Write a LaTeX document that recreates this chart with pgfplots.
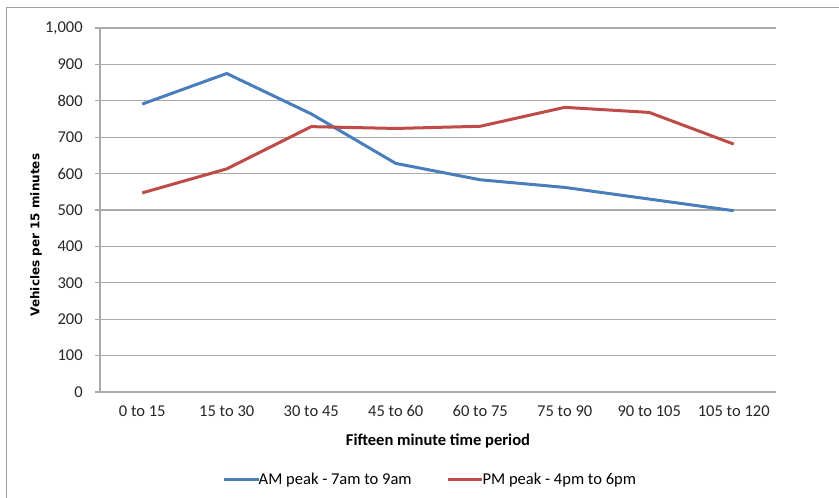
\documentclass[border=0pt]{standalone}
\usepackage{fontspec}
\setmainfont{Carlito}
\newfontfamily\ylabfont{DejaVu Sans}
\usepackage{pgfplots}
\pgfplotsset{compat=1.18}
\definecolor{amblue}{RGB}{74,126,187}
\definecolor{pmred}{RGB}{190,75,72}
\definecolor{gridgray}{RGB}{170,170,170}
\definecolor{framegray}{RGB}{160,160,160}
\begin{document}
\begin{tikzpicture}
\useasboundingbox (-75pt,-79.5pt) rectangle (554.25pt,294pt);
\begin{scope}[x=0.75pt,y=0.75pt]
\draw[framegray, line width=0.9pt] (-93.5,-120) -- (-93.5,384.5) -- (760,384.5);
\end{scope}
\begin{axis}[
  at={(0,0)}, anchor=south west,
  scale only axis,
  width=507pt, height=273pt,
  xmin=-0.5, xmax=7.5,
  ymin=0, ymax=1000,
  xtick={0,...,7},
  xticklabels={0 to 15,15 to 30,30 to 45,45 to 60,60 to 75,75 to 90,90 to 105,105 to 120},
  minor xtick={-0.5,0.5,...,7.5},
  ytick={0,100,...,1000},
  axis x line*=bottom, axis y line*=left,
  axis line style={draw=gridgray, line width=0.8pt, -},
  tick align=outside,
  major tick length=3.75pt, minor tick length=3.75pt,
  xtick style={draw=none},
  minor tick style={draw=gridgray, line width=0.8pt},
  ytick style={draw=gridgray, line width=0.8pt},
  ymajorgrids,
  major grid style={draw=gridgray, line width=0.8pt},
  /pgf/number format/assume math mode=true,
  /pgf/number format/1000 sep={,},
  tick label style={font=\fontsize{12.4}{14}\selectfont, text=black!85},
  yticklabel style={anchor=east, inner sep=0pt, xshift=-9pt},
  xticklabel style={anchor=center, inner sep=0pt, yshift=-10.5pt},
  xlabel={Fifteen minute time period},
  xlabel style={at={(axis description cs:0.5,-0.134)}, anchor=center, font=\bfseries\fontsize{12.4}{14}\selectfont},
  ylabel={Vehicles per 15 minutes},
  ylabel style={at={(axis description cs:-0.0947,0.431)}, anchor=center, rotate=0, font=\ylabfont\bfseries\fontsize{9}{11}\selectfont},
  legend columns=2,
  legend style={at={(axis description cs:0.489,-0.241)}, anchor=center, draw=none, fill=none,
    font=\fontsize{12.4}{14}\selectfont, inner sep=0pt,
    /tikz/every even column/.append style={column sep=24pt}},
  legend cell align=left,
  legend image code/.code={\draw[#1, line width=2.25pt] (0pt,0pt) -- (26pt,0pt);},
  every axis plot/.append style={line width=2.25pt, line join=round},
]
\addplot[amblue, mark=none] coordinates {(0,791) (1,875) (2,764) (3,628) (4,583) (5,562) (6,530) (7,498)};
\addlegendentry{\hspace{-3pt}AM peak - 7am to 9am}
\addplot[pmred, mark=none] coordinates {(0,547) (1,613) (2,729) (3,724) (4,730) (5,782) (6,768) (7,681)};
\addlegendentry{\hspace{-3pt}PM peak - 4pm to 6pm}
\end{axis}
\end{tikzpicture}
\end{document}
